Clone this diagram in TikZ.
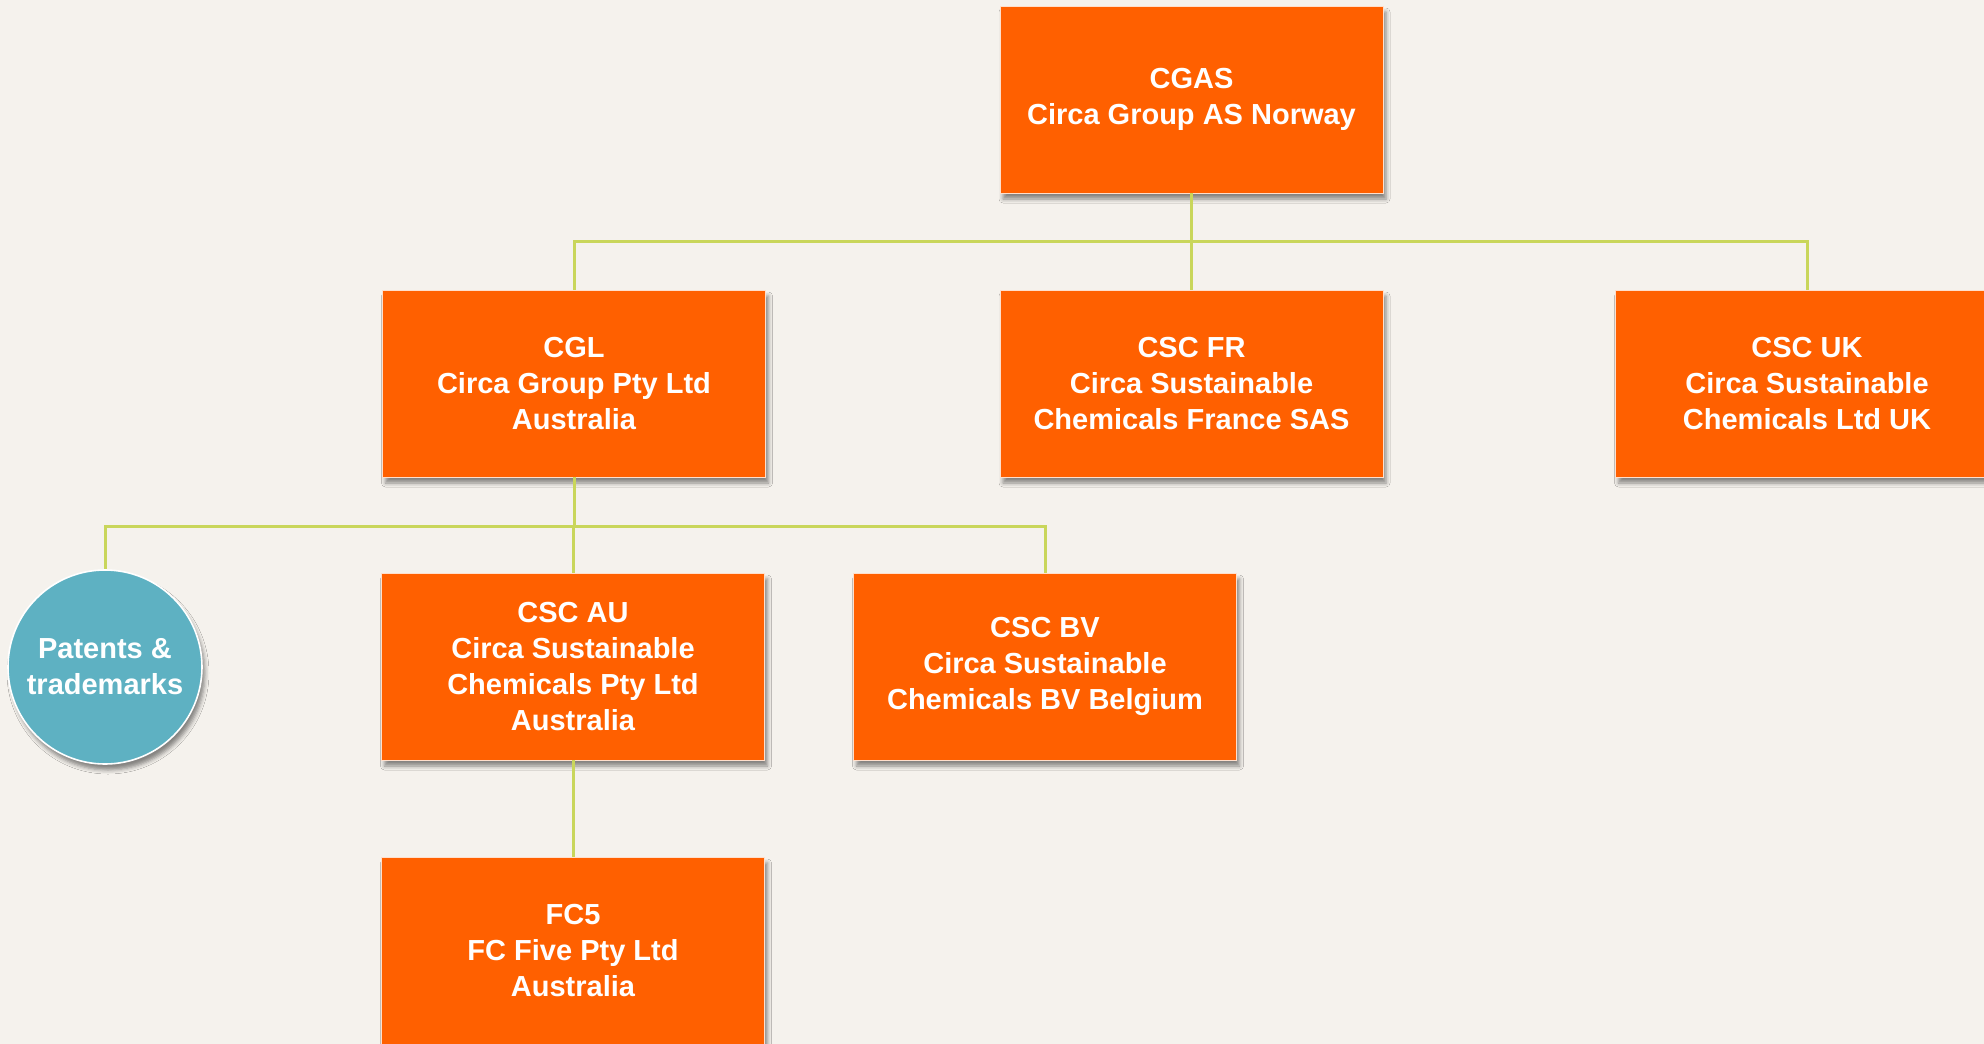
\documentclass[tikz,border=0pt]{standalone}
\usepackage{fontspec}
\setmainfont{Liberation Sans}
\usepackage{tikz}
\usetikzlibrary{positioning,shadows.blur}

\definecolor{paper}{RGB}{245,242,237}
\definecolor{circaorange}{RGB}{255,96,0}
\definecolor{circateal}{RGB}{94,177,194}
\definecolor{linkgreen}{RGB}{201,214,91}

\begin{document}
\begin{tikzpicture}
  [x=1pt,y=-1pt,
   every node/.style={text=white,font=\fontsize{29}{35.8}\selectfont\bfseries,align=center},
   company/.style={rectangle,fill=circaorange,draw=white!80!circaorange,line width=0.8pt,
     minimum width=383pt,minimum height=187pt,inner sep=0pt,
     blur shadow={shadow xshift=3pt,shadow yshift=-6pt,shadow blur radius=4pt,shadow opacity=45}},
   ipbox/.style={circle,fill=circateal,draw=white,line width=1.6pt,minimum size=194pt,inner sep=0pt,
     blur shadow={shadow xshift=3pt,shadow yshift=-6pt,shadow blur radius=4pt,shadow opacity=45}},
   link/.style={draw=linkgreen,line width=3pt}]
  \fill[paper] (0,0) rectangle (1984,1044);
  \useasboundingbox (0,0) rectangle (1984,1044);

  \node[company] (cgas) at (1191.5,99.5) {CGAS\\Circa Group AS Norway};
  \node[company] (cgl) at (574,383.5) {CGL\\Circa Group Pty Ltd\\Australia};
  \node[company] (cscfr) at (1191.5,383.5) {CSC FR\\Circa Sustainable\\Chemicals France SAS};
  \node[company] (cscuk) at (1807,383.5) {CSC UK\\Circa Sustainable\\Chemicals Ltd UK};
  \node[ipbox] (ip) at (105,667) {Patents \&\\trademarks};
  \node[company] (cscau) at (573,666.5) {CSC AU\\Circa Sustainable\\Chemicals Pty Ltd\\Australia};
  \node[company] (cscbv) at (1045,666.5) {CSC BV\\Circa Sustainable\\Chemicals BV Belgium};
  \node[company] (fc5) at (573,950.5) {FC5\\FC Five Pty Ltd\\Australia};

  % elbow links under each parent
  \foreach \to in {cgl,cscfr,cscuk}
    \draw[link] (cgas.south) -- ++(0,48.5) -| (\to.north);
  \foreach \to in {ip,cscau,cscbv}
    \draw[link] (cgl.south) -- ++(0,49) -| (\to.north);
  \draw[link] (cscau) -- (fc5);

\end{tikzpicture}
\end{document}
